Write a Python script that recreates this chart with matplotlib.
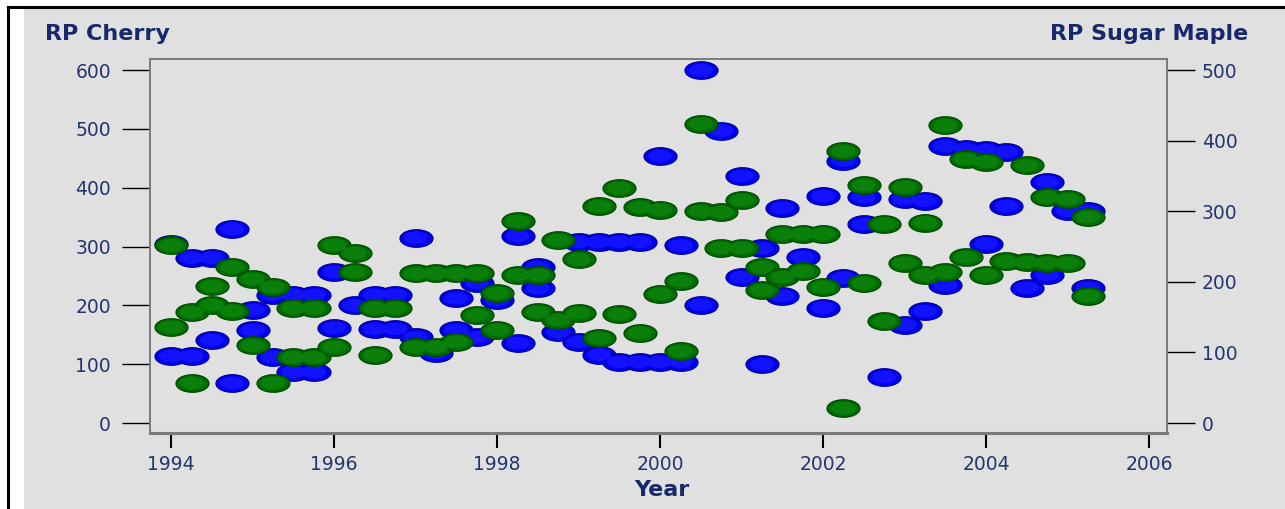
import matplotlib.pyplot as plt
import numpy as np
from matplotlib.path import Path
from matplotlib.transforms import Affine2D
from matplotlib.lines import Line2D
from matplotlib.patches import Rectangle

# RP Cherry (left axis)
cherry_year = [1994.0, 1994.25, 1994.5, 1994.75, 1994.5, 1994.0, 1994.25, 1994.75,
               1995.0, 1995.0, 1995.25, 1995.25, 1995.5, 1995.75, 1995.5, 1995.75,
               1996.0, 1996.25, 1996.5, 1996.75, 1996.0, 1996.5, 1996.75,
               1997.0, 1997.25, 1997.0, 1997.5, 1997.75, 1997.5, 1997.75,
               1998.0, 1998.25, 1998.25, 1998.5, 1998.5, 1998.75, 1999.0,
               1999.0, 1999.25, 1999.5, 1999.75, 2000.25,
               1999.25, 1999.5, 1999.75, 2000.0, 2000.25,
               2000.0, 2000.5, 2000.75, 2001.0, 2000.5, 2001.0, 2001.25, 2001.25,
               2001.5, 2001.5, 2001.75, 2002.0, 2002.0,
               2002.25, 2002.25, 2002.5, 2002.5, 2002.75, 2003.0, 2003.25, 2003.0, 2003.25,
               2003.5, 2003.75, 2004.0, 2004.25, 2003.5, 2004.0, 2004.25,
               2004.5, 2004.75, 2004.75, 2005.0, 2005.25, 2005.25]
cherry_val = [305, 281, 281, 330, 141, 114, 114, 68,
              192, 158, 112, 218, 218, 218, 87, 87,
              257, 200, 218, 218, 162, 160, 160,
              146, 119, 315, 212, 238, 158, 146,
              209, 318, 136, 265, 229, 155, 138,
              308, 308, 308, 308, 302,
              116, 104, 104, 104, 104,
              454, 600, 497, 420, 201, 248, 297, 100,
              366, 216, 282, 386, 196,
              446, 247, 384, 338, 78, 381, 378, 167, 190,
              471, 466, 464, 461, 235, 305, 369,
              230, 410, 252, 361, 361, 230]

# RP Sugar Maple (right axis)
maple_year = [1994.0, 1994.5, 1994.25, 1994.5, 1994.75, 1994.0, 1994.25, 1994.75,
              1995.0, 1995.25, 1995.0, 1995.25, 1995.5, 1995.75, 1995.5, 1995.75,
              1996.0, 1996.25, 1996.25, 1996.5, 1996.75, 1996.0, 1996.5,
              1997.0, 1997.25, 1997.5, 1997.0, 1997.25, 1997.5, 1997.75,
              1998.0, 1997.75,
              1998.0, 1998.25, 1998.25, 1998.5, 1998.5, 1998.75, 1998.75, 1999.0, 1999.0,
              1999.25, 1999.25, 1999.5, 1999.5, 1999.75, 2000.0, 1999.75, 2000.0,
              2000.25, 2000.25, 2000.5, 2000.5, 2000.75, 2000.75, 2001.0, 2001.0,
              2001.25, 2001.25, 2001.5, 2001.75, 2002.0, 2001.5, 2001.75, 2002.0,
              2002.25, 2002.25, 2002.5, 2002.5, 2002.75, 2002.75, 2003.0, 2003.0,
              2003.25, 2003.25, 2003.5, 2003.5, 2003.75, 2004.0, 2003.75, 2004.0,
              2004.25, 2004.5, 2004.75, 2005.0, 2004.5, 2004.75, 2005.0,
              2005.25, 2005.25]
maple_val = [252, 194, 157, 167, 159, 136, 57, 221,
             204, 193, 110, 57, 163, 163, 93, 93,
             252, 241, 214, 163, 163, 108, 96,
             108, 108, 115, 212, 212, 212, 212,
             184, 153,
             132, 286, 210, 210, 157, 259, 146, 232, 156,
             307, 120, 333, 154, 306, 302, 128, 183,
             201, 102, 424, 300, 299, 248, 248, 316,
             221, 188, 268, 268, 268, 207, 215, 193,
             385, 21, 337, 198, 282, 144, 334, 227,
             284, 210, 422, 214, 374, 370, 235, 210,
             229, 228, 227, 227, 365, 320, 317,
             292, 180]

year_ticks = [1994, 1996, 1998, 2000, 2002, 2004, 2006]
cherry_ticks = [0, 100, 200, 300, 400, 500, 600]
maple_ticks = [0, 100, 200, 300, 400, 500]

bg = '#e0e0e0'
navy = '#17286b'
tick_col = '#24356f'

# flattened ellipse marker
ellipse = Path.unit_circle().transformed(Affine2D().scale(1, 0.53))

fig = plt.figure(figsize=(12.85, 5.09), dpi=100, facecolor='white')
fig.patches.append(Rectangle((24 / 1285, 0), 1, 1 - 9 / 509, transform=fig.transFigure,
                             facecolor=bg, edgecolor='none', zorder=-10))
fig.lines.append(Line2D([8 / 1285, 8 / 1285], [0, 1 - 7 / 509], transform=fig.transFigure,
                        color='black', lw=2.2, zorder=-5))
fig.lines.append(Line2D([8 / 1285, 1], [1 - 7 / 509, 1 - 7 / 509], transform=fig.transFigure,
                        color='black', lw=2.2, zorder=-5))

ax = fig.add_axes([150 / 1285, 1 - 433 / 509, 1017 / 1285, 374 / 509])
ax.set_facecolor(bg)
ax2 = ax.twinx()

ax.scatter(cherry_year, cherry_val, s=560, marker=ellipse, facecolor='#0000f0',
           edgecolor='#0000a0', linewidth=1.0, zorder=3)
ax.scatter(cherry_year, cherry_val, s=300, marker=ellipse, facecolor='#1212ff',
           edgecolor='none', zorder=3)
ax2.scatter(maple_year, maple_val, s=560, marker=ellipse, facecolor='#006e00',
            edgecolor='#004c00', linewidth=1.0, zorder=3)
ax2.scatter(maple_year, maple_val, s=300, marker=ellipse, facecolor='#0a800a',
            edgecolor='none', zorder=3)

ax.set_xlim(1993.74, 2006.22)
ax.set_ylim(-17, 619)
ax2.set_ylim(-17 * 5 / 6, 619 * 5 / 6)

ax.set_xticks(year_ticks)
ax.set_yticks(cherry_ticks)
ax2.set_yticks(maple_ticks)

for a in (ax, ax2):
    for sp in a.spines.values():
        sp.set_color('#7a7a7a')
        sp.set_linewidth(1.2)
    a.spines['bottom'].set_linewidth(2.2)

ax.tick_params(axis='y', direction='out', length=20, width=1, color='black',
               labelsize=13.5, labelcolor=tick_col, pad=8)
ax2.tick_params(axis='y', direction='out', length=20, width=1, color='black',
                labelsize=13.5, labelcolor=tick_col, pad=5)
ax.tick_params(axis='x', direction='out', length=11, width=1.5, color='black',
               labelsize=13.5, labelcolor=tick_col, pad=5)

fig.text(45 / 1285, 1 - 34 / 509, 'RP Cherry', ha='left', va='center',
         fontsize=16, fontweight='bold', color=navy)
fig.text(1248 / 1285, 1 - 34 / 509, 'RP Sugar Maple', ha='right', va='center',
         fontsize=16, fontweight='bold', color=navy)
fig.text(662 / 1285, 1 - 490 / 509, 'Year', ha='center', va='center',
         fontsize=16, fontweight='bold', color=navy)

fig.savefig('out.png', dpi=100, facecolor=fig.get_facecolor())
plt.close(fig)
